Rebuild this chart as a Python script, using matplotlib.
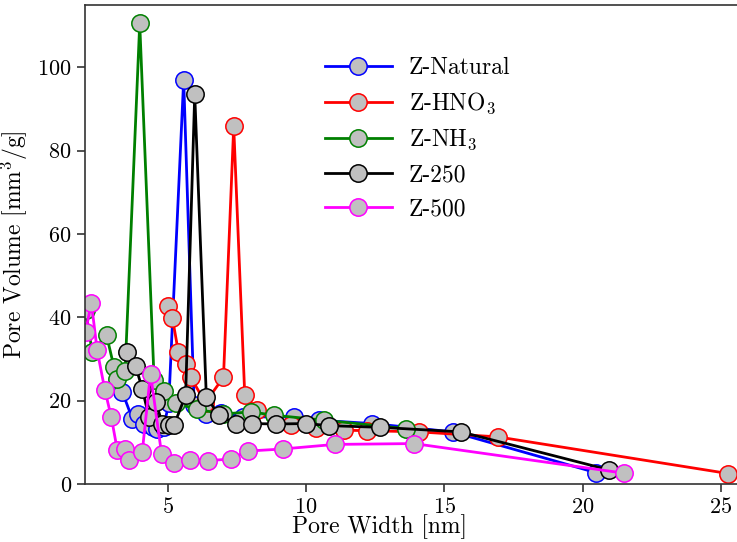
import matplotlib
matplotlib.use("Agg")
import matplotlib.pyplot as plt

plt.rcParams['font.family'] = 'serif'
plt.rcParams['font.serif'] = ['cmr10']
plt.rcParams['mathtext.fontset'] = 'cm'
plt.rcParams['axes.formatter.use_mathtext'] = True
plt.rcParams['axes.unicode_minus'] = False

# Z-Natural
nat_x = [3.35, 3.71, 3.93, 4.13, 4.45, 4.62, 4.85, 5.03, 5.57, 5.95, 6.39, 6.91, 7.7, 9.57, 10.46, 12.4, 15.3, 20.5]
nat_y = [22.1, 15.7, 16.9, 14.5, 13.6, 13.3, 13.7, 19.4, 97.0, 19.0, 16.9, 17.0, 16.1, 16.1, 15.3, 14.5, 12.5, 2.7]
# Z-HNO3
hno_x = [5.0, 5.16, 5.38, 5.64, 5.82, 6.35, 7.01, 7.38, 7.78, 8.24, 9.45, 10.35, 11.38, 12.2, 14.1, 16.94, 25.28]
hno_y = [42.7, 39.9, 31.6, 28.7, 25.7, 19.5, 25.6, 85.8, 21.3, 17.7, 14.1, 13.4, 12.9, 12.8, 12.5, 11.3, 2.5]
# Z-NH3
nh_x = [2.02, 2.26, 2.78, 3.05, 3.17, 3.45, 3.98, 4.5, 4.86, 5.28, 6.07, 7.0, 8.0, 8.84, 10.65, 13.6]
nh_y = [41.7, 31.7, 35.7, 28.0, 25.1, 27.0, 110.5, 25.0, 22.3, 19.4, 17.9, 16.8, 17.3, 16.5, 15.3, 13.3]
# Z-250
z250_x = [3.53, 3.83, 4.07, 4.31, 4.56, 4.8, 5.04, 5.22, 5.64, 5.97, 6.39, 6.85, 7.45, 8.05, 8.9, 10.0, 10.83, 12.68, 15.6, 20.95]
z250_y = [31.7, 28.3, 22.9, 16.1, 19.7, 14.5, 14.1, 14.1, 21.3, 93.5, 20.9, 16.5, 14.5, 14.5, 14.4, 14.5, 14.0, 13.6, 12.5, 3.4]
# Z-500
z500_x = [2.02, 2.23, 2.44, 2.72, 2.95, 3.17, 3.43, 3.59, 4.07, 4.37, 4.77, 5.22, 5.79, 6.45, 7.27, 7.88, 9.15, 11.04, 13.9, 21.5]
z500_y = [36.5, 43.5, 32.1, 22.5, 16.1, 8.1, 8.5, 5.8, 7.6, 26.5, 7.2, 5.1, 5.8, 5.6, 6.0, 7.9, 8.4, 9.5, 9.7, 2.6]

series = [
    ("Z-Natural", nat_x, nat_y, "blue"),
    ("Z-HNO$_3$", hno_x, hno_y, "red"),
    ("Z-NH$_3$", nh_x, nh_y, "green"),
    ("Z-250", z250_x, z250_y, "black"),
    ("Z-500", z500_x, z500_y, "magenta"),
]

fig = plt.figure(figsize=(7.37, 5.42), dpi=100)
ax = fig.add_axes([85/737, 58/542, 662/737, 479.3/542])

for label, xs, ys, c in series:
    ax.plot(xs, ys, '-o', color=c, lw=2.0, markersize=12.5,
            markerfacecolor='#c0c0c0', markeredgecolor=c, markeredgewidth=1.1,
            label=label)

ax.set_xlim(2.0, 25.95)
ax.set_ylim(0, 115)
ax.set_xticks([5, 10, 15, 20, 25])
ax.set_yticks([0, 20, 40, 60, 80, 100])
ax.spines['right'].set_visible(False)
for s in ax.spines.values():
    s.set_linewidth(1.2)
    s.set_color('#333333')
ax.tick_params(direction='out', length=6, width=1.2, labelsize=16, color='#333333')
ax.set_xlabel('Pore Width [nm]', fontsize=17)
ax.set_ylabel('Pore Volume [mm$^3$/g]', fontsize=17)
ax.xaxis.set_label_coords(0.445, -0.064)
ax.yaxis.set_label_coords(-0.083, 0.5)

ax.legend(loc='upper left', bbox_to_anchor=(0.33, 0.935), frameon=False,
          fontsize=17, handlelength=2.85, handletextpad=0.7, labelspacing=0.5)

fig.savefig('out.png', dpi=100)
